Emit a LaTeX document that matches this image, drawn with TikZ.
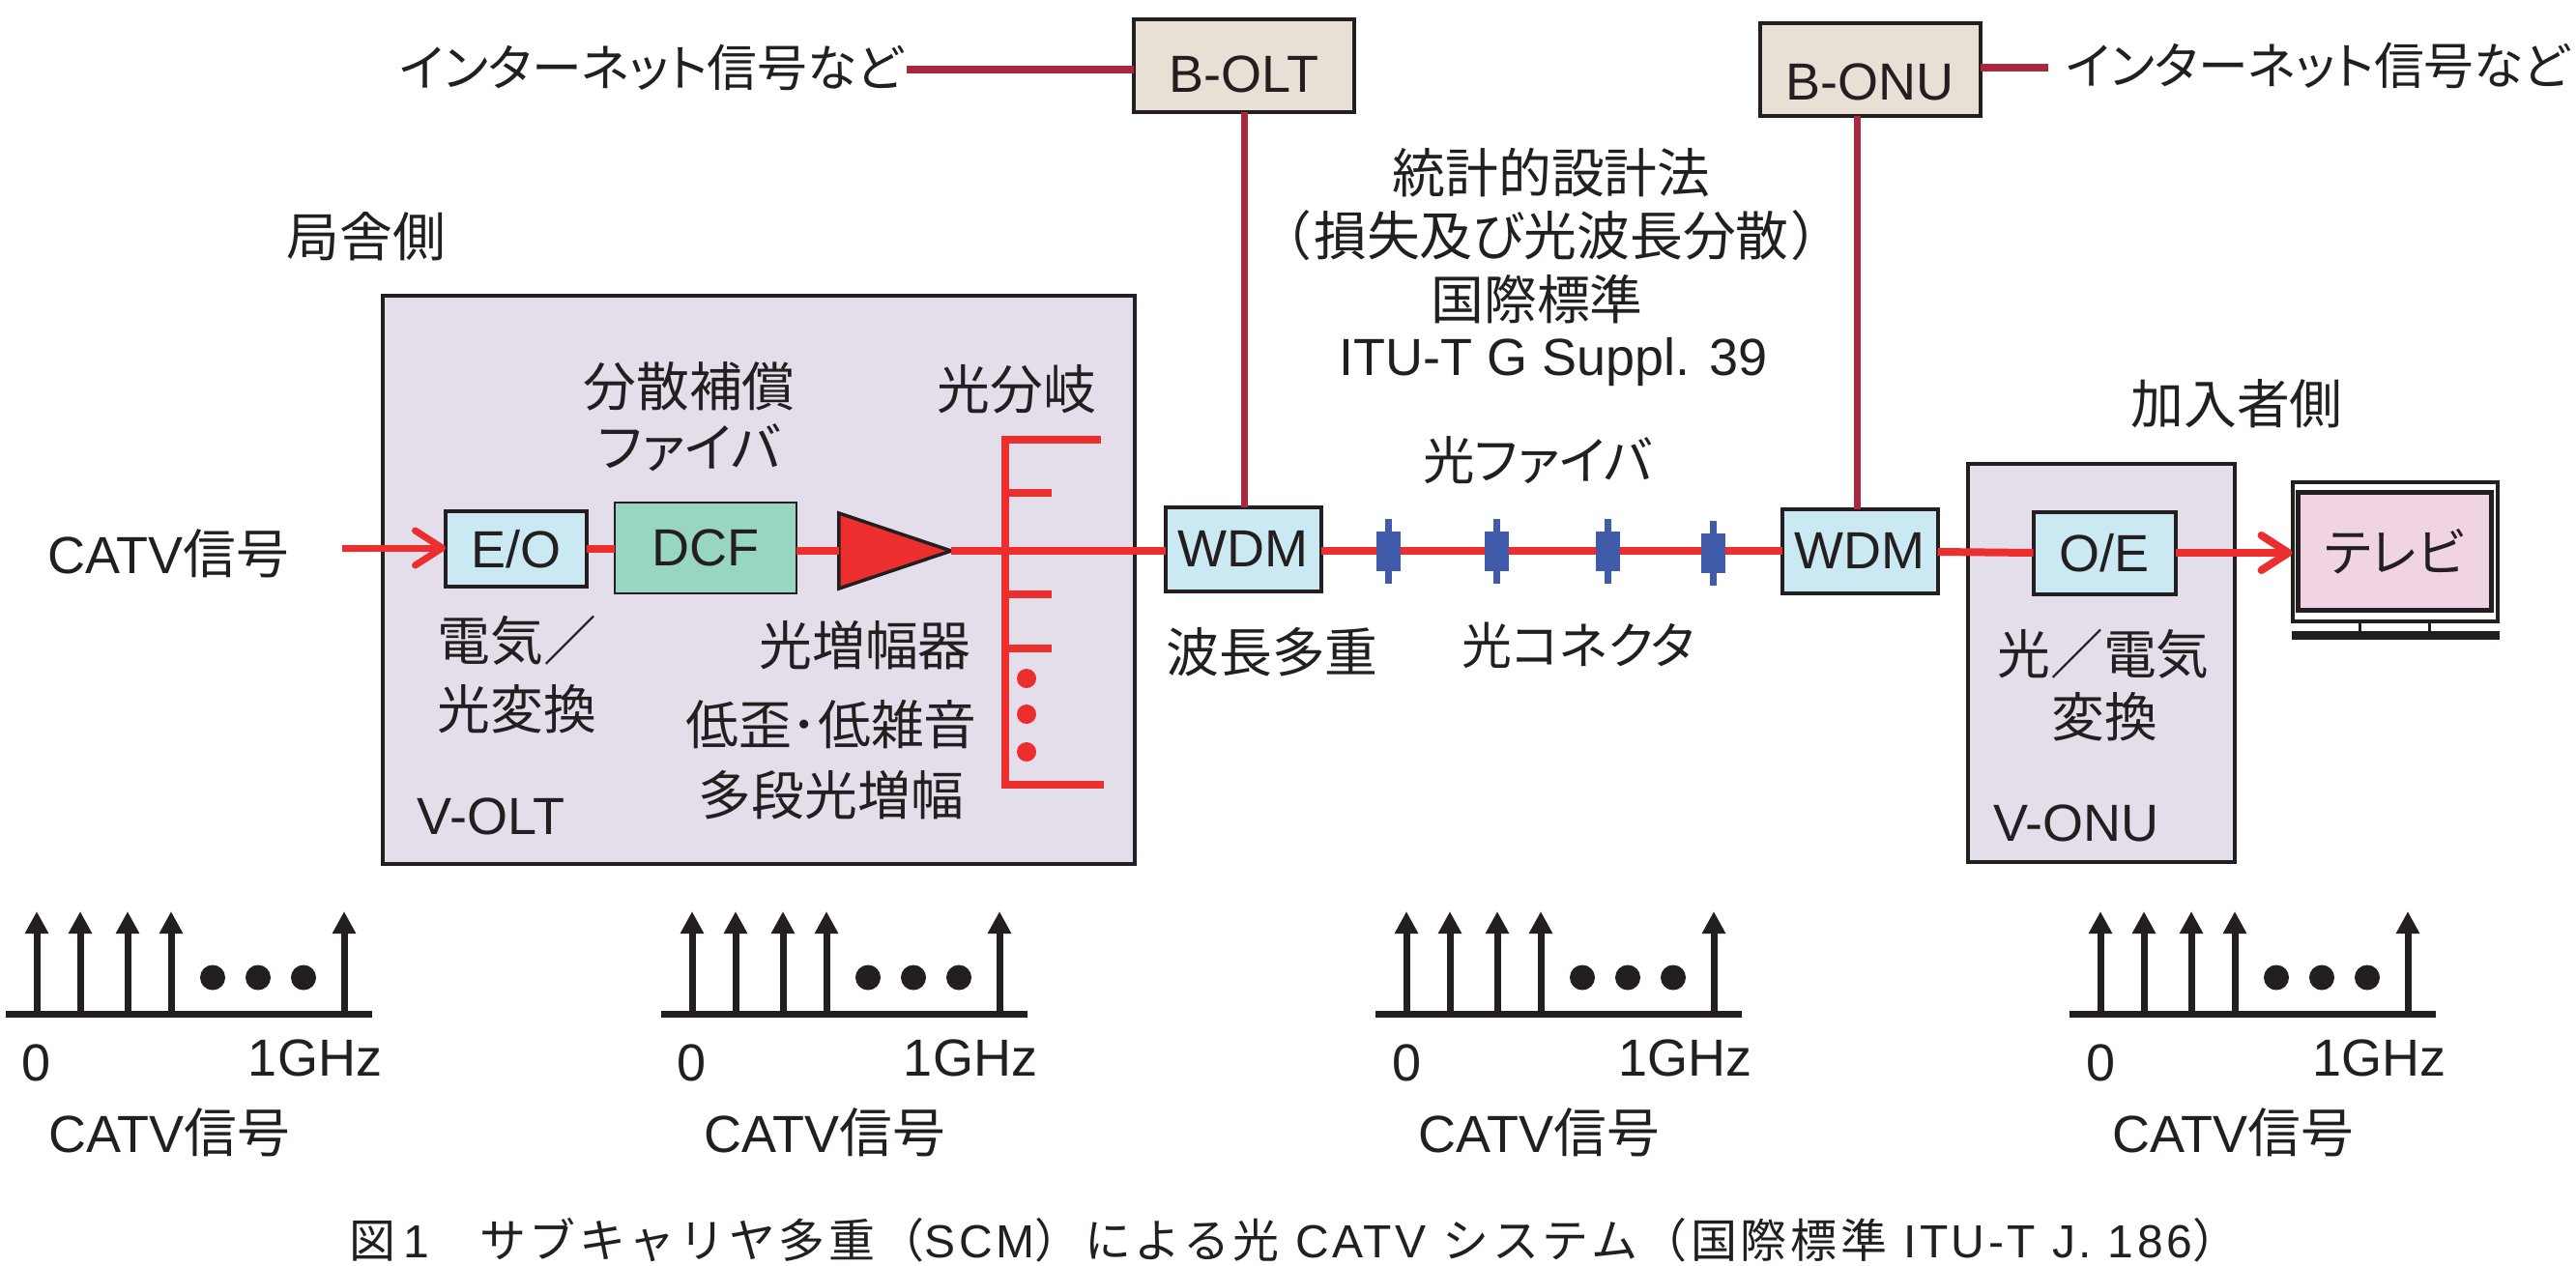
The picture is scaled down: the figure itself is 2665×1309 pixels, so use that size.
\documentclass[tikz,border=0pt]{standalone}
\usepackage{fontspec}
\usetikzlibrary{arrows.meta,shapes.geometric}
\setmainfont{Liberation Sans}
\newfontfamily\cjk[Scale=1.015,RawFeature={+palt}]{Noto Sans CJK JP}
\newfontfamily\cjkkana[Scale=0.99,RawFeature={+palt}]{Noto Sans CJK JP}
\newfontfamily\cjktight[Scale=0.96,RawFeature={+palt}]{Noto Sans CJK JP}
\newfontfamily\capcjk[LetterSpace=7.5]{Noto Sans CJK JP}
\newfontfamily\caplatin[LetterSpace=7.5]{Liberation Sans}
\newcommand{\J}[1]{{\cjk #1}}
\newcommand{\Kn}[1]{{\cjkkana #1}}
\newcommand{\Kt}[1]{{\cjktight #1}}
\newcommand{\CJ}[1]{{\capcjk #1}}
\definecolor{ink}{HTML}{231F20}
\definecolor{lavender}{HTML}{E3DEEA}
\definecolor{paleblue}{HTML}{CBE9F3}
\definecolor{dcfgreen}{HTML}{99D5C3}
\definecolor{beige}{HTML}{E8DFD5}
\definecolor{tvpink}{HTML}{F1D4E3}
\definecolor{opt}{HTML}{ED2E2F}
\definecolor{crimson}{HTML}{A9283F}
\definecolor{connblue}{HTML}{405BA9}
\tikzset{
  txt/.style={font=\fontsize{54}{66}\selectfont, inner sep=0pt, outer sep=0pt, align=center, text=ink},
  blockbox/.style={draw=ink, line width=4pt, inner sep=0pt, outer sep=0pt, txt, text=ink},
  unitbox/.style={blockbox, fill=lavender},
  wdmbox/.style={blockbox, fill=paleblue},
  broadband/.style={blockbox, fill=beige},
  optline/.style={draw=opt, line width=8pt},
  elecline/.style={draw=crimson, line width=7.5pt},
  optarrow/.style={draw=opt, -{Straight Barb[round,length=28pt,width=36pt]}},
  plug/.style={fill=connblue, draw=none},
  spectrum/.style={draw=ink, line width=7pt},
  carrier/.style={draw=ink, line width=7pt, -{Triangle[length=23pt,width=23pt]}},
}
\begin{document}
\begin{tikzpicture}[x=1pt,y=-1pt]
\useasboundingbox[fill=white] (0,0) rectangle (2665,1309);

% equipment housings
\node[unitbox, minimum width=778pt, minimum height=588pt] (volt) at (784.5,600) {};
\node[unitbox, minimum width=276pt, minimum height=412pt] (vonu) at (2174,686) {};

% anchors for the optical path
\coordinate (catvin) at (354,567);
\coordinate (sptop) at (1040,455);
\coordinate (spbot) at (1040,812);
\coordinate (spl1) at (1139,455);
\coordinate (spl2) at (1088,510);
\coordinate (spl3) at (1088,615);
\coordinate (spl4) at (1088,671);
\coordinate (spl5) at (1142,812);
\coordinate (netl) at (938,72);
\coordinate (netr) at (2119,70);

% blocks along the optical path
\node[wdmbox, minimum width=146pt, minimum height=78pt] (eo) at (534,568) {E/O};
\node[blockbox, fill=dcfgreen, line width=2.5pt, minimum width=188pt, minimum height=94pt] (dcf) at (730,567) {DCF};
\node[isosceles triangle, isosceles triangle stretches, draw=ink, fill=opt, line width=3.5pt, inner sep=0pt, outer sep=0pt, minimum width=78pt, minimum height=116pt] (amp) at (896,570) {};
\node[wdmbox, minimum width=161pt, minimum height=87pt] (wdma) at (1286,568) {WDM};
\node[wdmbox, minimum width=161pt, minimum height=87pt] (wdmb) at (1924,570) {WDM};
\node[wdmbox, minimum width=147pt, minimum height=85pt] (oe) at (2177,572) {O/E};
\node[broadband, minimum width=228pt, minimum height=96pt, label={[txt, yshift=-9pt]center:B-OLT}] (bolt) at (1287,68) {};
\node[broadband, minimum width=228pt, minimum height=96pt, label={[txt, yshift=-13pt]center:B-ONU}] (bonu) at (1934.5,72) {};

% television set
\node[draw=ink, fill=white, line width=4pt, minimum width=212pt, minimum height=144pt, inner sep=0pt, outer sep=0pt] (tvframe) at (2477.5,570.5) {};
\node[draw=ink, fill=tvpink, line width=5pt, minimum width=200pt, minimum height=122pt, txt] (tv) at (2477,570.5) {\Kn{テレビ}};
\node[draw=ink, fill=ink, minimum width=214pt, minimum height=8pt, inner sep=0pt, outer sep=0pt] (tvbase) at (2478.5,657) {};
\draw[draw=ink, line width=3pt] (2441,644) -- (2441,653) (2513,644) -- (2513,653);

% optical connections
\draw[optline] (eo.east) -- (eo.east -| dcf.west);
\draw[optline] (dcf.east |- amp.west) -- (amp.west);
\draw[optline] (amp.apex) -- (wdma.west |- amp.apex);
\draw[optline] (wdma.east |- wdmb.west) -- (wdmb.west);
\draw[optline] (wdmb.east) ++(0,1) -- (oe.west);
\draw[optarrow, line width=7pt] (catvin) -- (eo.west |- catvin);
\draw[optarrow, line width=8pt] (oe.east) -- (tvframe.west |- oe.east);

% optical splitter
\draw[optline, line cap=butt] (sptop) -- (spbot);
\draw[optline] ([xshift=-4pt]sptop) -- (spl1);
\draw[optline] (sptop |- spl2) -- (spl2);
\draw[optline] (sptop |- spl3) -- (spl3);
\draw[optline] (sptop |- spl4) -- (spl4);
\draw[optline] ([xshift=-4pt]spbot) -- (spl5);
\foreach \yy/\nm in {702/a,739/b,778/c}
  \node[circle, fill=opt, inner sep=0pt, minimum size=20pt] (spdot\nm) at (1062,\yy) {};

% optical connectors on the fibre
\foreach \xx/\yy/\nm in {1436/570/a,1548/570/b,1663/570/c,1772/572/d}{
  \node[plug, minimum width=7pt, minimum height=67pt, inner sep=0pt] (pin\nm) at (\xx,\yy) {};
  \node[plug, minimum width=25pt, minimum height=41pt, inner sep=0pt] (plug\nm) at (\xx,\yy) {};
}

% electrical links to the broadband equipment
\draw[elecline] (netl) -- (bolt.west |- netl);
\draw[elecline] (bonu.east |- netr) -- (netr);
\draw[elecline, line width=7pt] (bolt.south) -- (wdma.north -| bolt.south);
\draw[elecline, line width=7pt] (bonu.south -| 1921,0) -- (wdmb.north -| 1921,0);

% labels
\node[txt] (netltx) at (674,70) {\Kt{インターネット信号など}};
\node[txt] (netrtx) at (2398,68) {\Kt{インターネット信号など}};
\node[txt] (sitea) at (379,245) {\J{局舎側}};
\node[txt] (stata) at (1605,179) {\J{統計的設計法}};
\node[txt] (statb) at (1605,244) {\J{（\kern4pt 損失及び光波長分散\kern4pt ）}};
\node[txt] (statc) at (1590,310) {\J{国際標準}};
\node[txt] (statd) at (1607,375) {ITU-T G Suppl. 39};
\node[txt] (sited) at (2314,418) {\J{加入者側}};
\node[txt] (dcfa) at (713,400) {\J{分散補償}};
\node[txt] (dcfb) at (713,463) {\J{ファイバ}};
\node[txt] (split) at (1052,403) {\J{光分岐}};
\node[txt] (catv) at (174,573) {CATV\J{信号}};
\node[txt] (eoa) at (535,663) {\J{電気／}};
\node[txt] (eob) at (535,734) {\J{光変換}};
\node[txt] (ampa) at (895,668) {\J{光増幅器}};
\node[txt] (ampb) at (860,750) {\J{低歪･低雑音}};
\node[txt] (ampc) at (860,823) {\J{多段光増幅}};
\node[txt] (volttx) at (508,845) {V-OLT};
\node[txt] (wdmtx) at (1316,675) {\J{波長多重}};
\node[txt] (fibre) at (1591,476) {\Kn{光ファイバ}};
\node[txt] (conn) at (1633,668) {\Kt{光コネクタ}};
\node[txt] (oea) at (2176,677) {\J{光／電気}};
\node[txt] (oeb) at (2177,742) {\J{変換}};
\node[txt] (vonutx) at (2148,852) {V-ONU};

% subcarrier spectra
\foreach \dx/\nm in {0/a,678/b,1417/c,2135/d}{
  \begin{scope}[xshift=\dx]
    \draw[spectrum] (6,1049) -- (385,1049);
    \foreach \cx in {38,83,132,177,356}
      \draw[carrier] (\cx,1049) -- (\cx,943);
    \foreach \cx in {220,267,314}
      \fill[ink] (\cx,1011.5) circle (13pt);
    \node[txt] (zero\nm) at (38,1100) {0};
    \node[txt] (ghz\nm) at (326,1095) {1GHz};
    \node[txt] (sig\nm) at (175,1172) {CATV\J{信号}};
  \end{scope}
}

% caption
\node[txt, font=\fontsize{48}{54}\selectfont\caplatin] (caption) at (1339,1283)
  {\CJ{図}\,1\CJ{　サブキャリヤ多重（}SCM\CJ{）による光} CATV \CJ{システム（国際標準} ITU-T J. 186\CJ{）}};
\end{tikzpicture}
\end{document}
